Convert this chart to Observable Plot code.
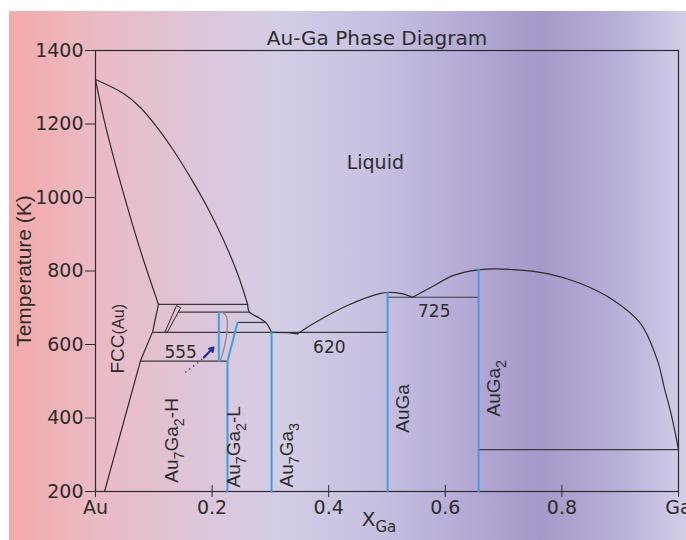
<!DOCTYPE html>
<html><head><meta charset="utf-8">
<script src="https://cdn.jsdelivr.net/npm/d3@7"></script>
<script src="https://cdn.jsdelivr.net/npm/@observablehq/plot@0.6"></script>
<style>
html,body{margin:0;padding:0;background:#fff;overflow:hidden;}
#wrap{position:relative;width:686px;height:540px;}
#bg{position:absolute;left:9px;top:11px;width:677px;height:529px;
background:linear-gradient(to right,#f4aaaa 0%,#ebbac4 12.7%,#ddc6da 28.2%,#d3cde6 40%,#c7bfe0 54.8%,#b8aed8 65%,#a698c9 78.4%,#b8afd8 90%,#d4cde8 100%);}
#chart{position:absolute;left:0;top:0;}
</style></head><body><div id="wrap"><div id="bg"></div><div id="chart"></div></div>
<script>
// ---- axes ----
const xTicks = [0, 0.2, 0.4, 0.6, 0.8, 1];
const xTickLabels = ["Au", "0.2", "0.4", "0.6", "0.8", "Ga"];
const yTicks = [200, 400, 600, 800, 1000, 1200, 1400];

// ---- boundary curves (X_Ga, T in K) ----
const solidusX = [0, 0.0137, 0.031, 0.048, 0.077, 0.108];
const solidusT = [1321, 1218, 1109, 1011, 856, 709];

const liquidusLX = [0, 0.048, 0.077, 0.106, 0.134, 0.163, 0.192, 0.22, 0.2436, 0.261];
const liquidusLT = [1321, 1283, 1245, 1190, 1128, 1054, 973, 883, 793, 709];

const liquidusPX = [0.261, 0.264, 0.28, 0.292, 0.300, 0.302];
const liquidusPT = [709, 688, 673, 660, 640, 633];

const liquidusE1X = [0.302, 0.33, 0.3465];
const liquidusE1T = [633, 632, 629];

const liquidusAX = [0.3465, 0.374, 0.432, 0.489, 0.501, 0.523, 0.544];
const liquidusAT = [629, 657, 706, 739, 741.5, 739, 728.6];

const liquidusBX = [0.544, 0.575, 0.614, 0.660, 0.717, 0.775, 0.832, 0.889, 0.935, 0.964, 0.976, 0.986, 0.993, 1.0];
const liquidusBT = [728.6, 755, 788, 804, 804, 793, 766, 720, 657, 556, 480, 420, 370, 314];

const solvusX = [0.108, 0.098, 0.077, 0.0155];
const solvusT = [709, 635, 555, 200];

const wedgeX = [0.119, 0.139, 0.146, 0.123, 0.119];
const wedgeT = [633, 706, 700, 633, 633];

// isotherms
const isoT  = [709, 688, 660, 633, 555, 728.6, 314];
const isoX1 = [0.108, 0.1416, 0.2436, 0.098, 0.077, 0.501, 0.657];
const isoX2 = [0.261, 0.264, 0.292, 0.501, 0.2264, 0.657, 1.0];

// compound lines (blue)
const cmpH_X = [0.2115, 0.2115];           const cmpH_T = [555, 688];
const cmpL_X = [0.2264, 0.2264, 0.2436];   const cmpL_T = [200, 555, 660];
const cmp3_X = [0.302, 0.302];             const cmp3_T = [200, 633];
const cmpAuGa_X = [0.501, 0.501];          const cmpAuGa_T = [200, 741.5];
const cmpAuGa2_X = [0.657, 0.657];         const cmpAuGa2_T = [200, 805];

// grey boundary of the Au7Ga2-H field
const hFieldX = [0.2115, 0.219, 0.2245, 0.226, 0.2255, 0.222, 0.218, 0.2145];
const hFieldT = [688, 686, 676, 660, 635, 600, 575, 557];

// ---- labels ----
const flatLabels = ["Liquid", "555", "620", "725"];
const flatLabelX = [0.480, 0.146, 0.401, 0.581];
const flatLabelT = [1093, 577, 592, 690];

const phaseLabels = ["FCC~{(Au)}", "Au_{7}Ga_{2}-H", "Au_{7}Ga_{2}-L", "Au_{7}Ga_{3}", "AuGa", "AuGa_{2}"];
const phaseLabelX = [0.039, 0.131, 0.238, 0.329, 0.527, 0.683];
const phaseLabelT = [521, 224, 211, 211, 360, 404];

const pts = (X, T) => X.map((x, i) => ({x, t: T[i]}));
const ink = "#2c2c2c";
const blue = "#3b9fe2";

const lineOpts = {x: "x", y: "t", stroke: ink, strokeWidth: 1.2};
const curveOpts = {...lineOpts, curve: "catmull-rom"};
const blueOpts = {x: "x", y: "t", stroke: blue, strokeWidth: 2};

const isoData = isoT.map((t, i) => ({t, x1: isoX1[i], x2: isoX2[i]}));
const flatData = flatLabels.map((s, i) => ({s, x: flatLabelX[i], t: flatLabelT[i]}));
const phaseData = phaseLabels.map((s, i) => ({s, x: phaseLabelX[i], t: phaseLabelT[i]}));

const chart = Plot.plot({
  width: 686, height: 540,
  marginLeft: 95, marginRight: 8, marginTop: 50, marginBottom: 49,
  x: {domain: [0, 1]},
  y: {domain: [200, 1400]},
  style: {fontFamily: "DejaVu Sans", fontSize: "19px", background: "transparent", color: "#2c2c2c", overflow: "visible"},
  marks: [
    Plot.frame({stroke: ink, strokeWidth: 1.2}),
    Plot.axisY({ticks: yTicks, tickSize: 10, tickPadding: 2, tickFormat: d => String(d), label: null}),
    Plot.axisX({ticks: xTicks, tickSize: 6, tickPadding: 3, tickFormat: d => xTickLabels[xTicks.indexOf(d)], label: null}),
    Plot.axisX({ticks: xTicks, tickSize: 6, dy: -6, tickFormat: () => "", label: null}),
    // isotherms
    Plot.link(isoData, {x1: "x1", x2: "x2", y1: "t", y2: "t", stroke: "#3a3a3a", strokeWidth: 1.2}),
    // curves
    Plot.line(pts(solidusX, solidusT), curveOpts),
    Plot.line(pts(liquidusLX, liquidusLT), curveOpts),
    Plot.line(pts(liquidusPX, liquidusPT), curveOpts),
    Plot.line(pts(liquidusE1X, liquidusE1T), lineOpts),
    Plot.line(pts(liquidusAX, liquidusAT), curveOpts),
    Plot.line(pts(liquidusBX, liquidusBT), curveOpts),
    Plot.line(pts(solvusX, solvusT), lineOpts),
    Plot.line(pts(wedgeX, wedgeT), {...lineOpts, strokeWidth: 1}),
    Plot.line(pts(hFieldX, hFieldT), {x: "x", y: "t", stroke: "#8a8a95", strokeWidth: 1.3, curve: "catmull-rom"}),
    // compounds
    Plot.line(pts(cmpH_X, cmpH_T), blueOpts),
    Plot.line(pts(cmpL_X, cmpL_T), blueOpts),
    Plot.line(pts(cmp3_X, cmp3_T), blueOpts),
    Plot.line(pts(cmpAuGa_X, cmpAuGa_T), blueOpts),
    Plot.line(pts(cmpAuGa2_X, cmpAuGa2_T), blueOpts),
    // pointer for Au7Ga2-H
    Plot.link([{x1: 0.154, t1: 524, x2: 0.183, t2: 560}], {x1: "x1", y1: "t1", x2: "x2", y2: "t2", stroke: "#555", strokeWidth: 1.6, strokeDasharray: "1.5,3.5"}),
    Plot.arrow([{x1: 0.186, t1: 565, x2: 0.2024, t2: 592}], {x1: "x1", y1: "t1", x2: "x2", y2: "t2", stroke: "#2b2ba0", strokeWidth: 2.2, headLength: 7}),
    // labels
    Plot.text(flatData, {x: "x", y: "t", text: "s", fontSize: d => d.s === "Liquid" ? 19 : 17, fill: "#2c2c2c"}),
    Plot.text(phaseData, {x: "x", y: "t", text: "s", rotate: -90, textAnchor: "start", fontSize: 19, fontFamily: "Liberation Sans", fill: "#2c2c2c"}),
    Plot.text(["Au-Ga Phase Diagram"], {frameAnchor: "top", textAnchor: "middle", dy: -20, dx: -10, fontSize: 20, fill: "#2c2c2c"}),
    Plot.text(["Temperature (K)"], {frameAnchor: "left", textAnchor: "middle", dx: -71, rotate: -90, fontSize: 21, fontFamily: "Liberation Sans", fill: "#2c2c2c"}),
    Plot.text(["X_{Ga}"], {frameAnchor: "bottom", textAnchor: "middle", dy: 34, dx: -8, fontSize: 20, fill: "#2c2c2c"})
  ]
});

// rich text: _{..} subscript, ~{..} smaller text
const NS = "http://www.w3.org/2000/svg";
chart.querySelectorAll("text").forEach(el => {
  const s = el.textContent;
  if (!/[_~]\{/.test(s)) return;
  el.textContent = "";
  const re = /([_~])\{([^}]*)\}|([^_~]+)/g;
  let m, shift = 0;
  while ((m = re.exec(s))) {
    const t = document.createElementNS(NS, "tspan");
    if (m[3] !== undefined) {
      t.textContent = m[3];
      if (shift) { t.setAttribute("dy", -shift); shift = 0; }
    } else if (m[1] === "_") {
      t.textContent = m[2];
      t.setAttribute("font-size", "75%");
      t.setAttribute("dy", 6); shift = 6;
    } else {
      t.textContent = m[2];
      t.setAttribute("font-size", "85%");
      if (shift) { t.setAttribute("dy", -shift); shift = 0; }
    }
    el.appendChild(t);
  }
});

document.getElementById("chart").appendChild(chart);
</script></body></html>
